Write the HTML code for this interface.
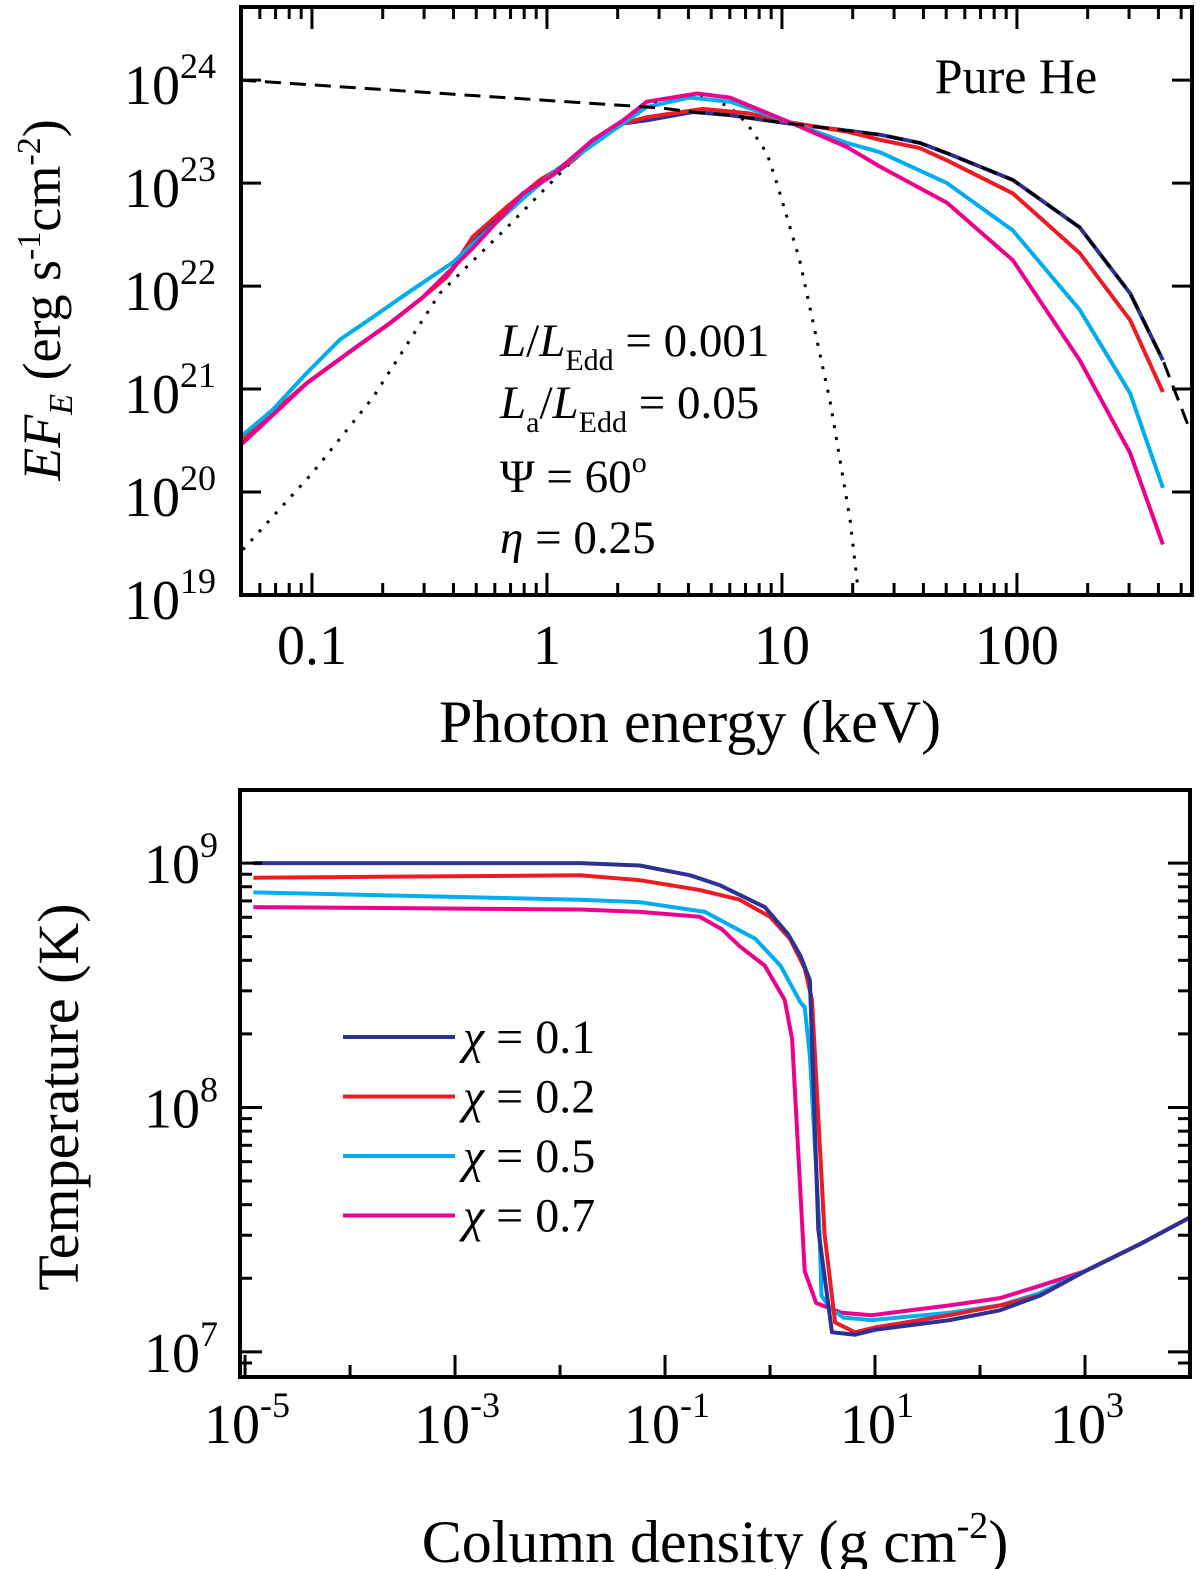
<!DOCTYPE html>
<html><head><meta charset="utf-8"><style>
html,body{margin:0;padding:0;background:#fff}
svg{display:block;font-family:"Liberation Serif",serif}
</style></head><body>
<svg id="fig" width="1200" height="1569" viewBox="0 0 1200 1569" xmlns="http://www.w3.org/2000/svg">
<g id="topPanel"></g>
<g id="botPanel"></g>
<text x="1016" y="93" font-size="50" text-anchor="middle">Pure He</text>
<g font-size="47">
<text x="500" y="356"><tspan font-style="italic">L</tspan>/<tspan font-style="italic">L</tspan><tspan font-size="30" dy="14">Edd</tspan><tspan dy="-14"> = 0.001</tspan></text>
<text x="500" y="418"><tspan font-style="italic">L</tspan><tspan font-size="30" dy="14">a</tspan><tspan dy="-14">/</tspan><tspan font-style="italic">L</tspan><tspan font-size="30" dy="14">Edd</tspan><tspan dy="-14"> = 0.05</tspan></text>
<text x="500" y="492">Ψ = 60<tspan font-size="30" dy="-20">o</tspan></text>
<text x="500" y="553"><tspan font-style="italic">η</tspan> = 0.25</text>
</g>
<text x="690" y="742" font-size="60" text-anchor="middle">Photon energy (keV)</text>
<text transform="translate(60,300) rotate(-90)" font-size="54" text-anchor="middle"><tspan font-style="italic">EF</tspan><tspan font-style="italic" font-size="34" dy="12">E</tspan><tspan dy="-12"> (erg s</tspan><tspan font-size="34" dy="-20">-1</tspan><tspan dy="20">cm</tspan><tspan font-size="34" dy="-20">-2</tspan><tspan dy="20">)</tspan></text>
<text x="715" y="1562" font-size="60" text-anchor="middle">Column density (g cm<tspan font-size="38" dy="-24">-2</tspan><tspan dy="24">)</tspan></text>
<text transform="translate(78,1097) rotate(-90)" font-size="58" text-anchor="middle">Temperature (K)</text>
</svg>
<script>
// ---- Top panel data (energy in keV, log10 EF_E) ----
const blueE=[0.0508,0.0682,0.0953,0.155,0.215,0.296,0.375,0.484,0.612,0.791,1.03,1.29,1.57,2.11,2.66,4.18,6.01,9.80,18.9,26.1,38.6,50.4,96.1,185,303,418];
const blueF=[20.50,20.77,21.06,21.41,21.64,21.89,22.09,22.42,22.67,22.90,23.06,23.22,23.39,23.58,23.61,23.69,23.66,23.59,23.51,23.47,23.39,23.29,23.03,22.57,21.93,21.28];
const redE=[0.0508,0.0682,0.0953,0.155,0.215,0.296,0.375,0.484,0.676,0.933,1.29,1.57,2.11,2.66,4.61,7.10,10.8,18.9,26.1,38.6,50.4,96.1,185,303,418];
const redF=[20.50,20.77,21.06,21.41,21.64,21.89,22.09,22.48,22.77,23.03,23.22,23.39,23.58,23.64,23.72,23.68,23.59,23.50,23.42,23.34,23.22,22.90,22.32,21.67,20.97];
const cyanE=[0.0494,0.0682,0.0953,0.1315,0.182,0.254,0.398,0.572,0.791,1.10,1.52,2.11,2.66,4.06,6.01,10.8,18.9,26.1,50.4,96.1,185,303,418];
const cyanF=[20.53,20.80,21.16,21.48,21.70,21.93,22.23,22.56,22.85,23.13,23.35,23.58,23.74,23.83,23.79,23.59,23.39,23.30,23.00,22.54,21.77,20.96,20.04];
const pinkE=[0.0494,0.0953,0.155,0.215,0.296,0.484,0.791,1.03,1.57,2.11,2.66,4.35,6.01,10.8,18.9,26.1,50.4,96.1,185,303,418];
const pinkF=[20.45,21.06,21.41,21.64,21.89,22.37,22.90,23.06,23.42,23.61,23.79,23.87,23.83,23.59,23.35,23.16,22.81,22.25,21.28,20.38,19.49];
const dashE=[0.0494,3.03,4.18,6.01,9.80,18.9,26.1,38.6,50.4,96.1,185,303,418,545];
const dashF=[24.00,23.73,23.69,23.66,23.59,23.51,23.47,23.39,23.29,23.03,22.57,21.93,21.28,20.60];
const dotE=[0.0508,0.1,0.182,0.350,0.676,1.29,1.80,3.03,4.35,6.01,7.10,8.63,9.52,11.9,16.0,19.5,21.1];
const dotF=[19.44,20.18,20.92,21.93,22.57,23.22,23.51,23.81,23.87,23.74,23.58,23.29,23.00,22.25,20.89,19.73,19.05];
const topXTicks=["0.1","1","10","100"];
const topYTicks=["19","20","21","22","23","24"];
// ---- Bottom panel data (log10 column density, log10 T) ----
const b1N=[-4.92,-1.81,-1.24,-0.76,-0.48,-0.05,0.17,0.29,0.38,0.46,0.59,0.81,1.0,1.71,2.19,2.57,3.0,3.52,4.0];
const b1T=[9.00,9.00,8.99,8.95,8.91,8.82,8.71,8.62,8.52,7.50,7.08,7.07,7.09,7.13,7.17,7.23,7.33,7.44,7.55];
const b2N=[-4.92,-1.81,-1.24,-0.67,-0.29,0.0,0.19,0.33,0.40,0.52,0.62,0.81,1.0,1.71,2.19,2.57,3.0,3.52,4.0];
const b2T=[8.94,8.95,8.93,8.89,8.85,8.78,8.69,8.57,8.44,7.48,7.12,7.08,7.10,7.15,7.19,7.23,7.33,7.44,7.55];
const b5N=[-4.92,-1.81,-1.24,-0.62,-0.14,0.10,0.29,0.33,0.38,0.47,0.49,0.57,0.70,0.97,1.71,2.19,2.57,3.0,3.52,4.0];
const b5T=[8.88,8.85,8.84,8.80,8.69,8.58,8.43,8.41,8.21,7.51,7.23,7.18,7.14,7.13,7.16,7.19,7.24,7.33,7.44,7.55];
const b7N=[-4.92,-1.81,-1.24,-0.67,-0.46,-0.29,-0.05,0.14,0.21,0.33,0.44,0.68,0.97,1.71,2.19,2.57,3.0,3.52,4.0];
const b7T=[8.82,8.81,8.80,8.78,8.73,8.66,8.58,8.44,8.28,7.33,7.20,7.16,7.15,7.19,7.22,7.27,7.33,7.44,7.55];
const chiLabels=["0.1","0.2","0.5","0.7"];
const botXExp=["-5","-3","-1","1","3"];
const botYExp=["7","8","9"];

const NS="http://www.w3.org/2000/svg";
function mk(tag,attrs,parent){const e=document.createElementNS(NS,tag);for(const k in attrs)e.setAttribute(k,attrs[k]);parent.appendChild(e);return e;}
const COL=["#2e3192","#ed1c24","#00aeef","#ec008c"];

// top axes
const T={x0:241,x1:1192,y0:7,y1:595,lx0:-1.302,lx1:2.745,ly0:19,ly1:24.71};
const tx=e=>T.x0+(Math.log10(e)-T.lx0)/(T.lx1-T.lx0)*(T.x1-T.x0);
const ty=f=>T.y1-(f-T.ly0)/(T.ly1-T.ly0)*(T.y1-T.y0);
const gTop=document.getElementById('topPanel');
const cp=mk('clipPath',{id:'ctop'},gTop);mk('rect',{x:T.x0,y:T.y0,width:T.x1-T.x0,height:T.y1-T.y0},cp);
function lineTop(E,F,col,name,dash){
  const d=E.map((e,i)=>(i?'L':'M')+tx(e).toFixed(1)+' '+ty(F[i]).toFixed(1)).join(' ');
  const p=mk('path',{d:d,fill:'none',stroke:col,'stroke-width':dash?3:4,'stroke-linejoin':'round','clip-path':'url(#ctop)'},gTop);
  if(dash)p.setAttribute('stroke-dasharray',dash);
  
  
}
lineTop(dotE,dotF,'#000','blackbody-dotted-line','3 9');
lineTop(blueE,blueF,COL[0],'spectrum-chi-0.1');
lineTop(redE,redF,COL[1],'spectrum-chi-0.2');
lineTop(cyanE,cyanF,COL[2],'spectrum-chi-0.5');
lineTop(pinkE,pinkF,COL[3],'spectrum-chi-0.7');
lineTop(dashE,dashF,'#000','model-dashed-line','16 9');
mk('rect',{x:T.x0,y:T.y0,width:T.x1-T.x0,height:T.y1-T.y0,fill:'none',stroke:'#000','stroke-width':4},gTop);
for(let d=-2;d<=2;d++)for(let m=1;m<=9;m++){
  const v=m*Math.pow(10,d);const x=tx(v);if(x<T.x0+2||x>T.x1-2)continue;
  const L=m===1?22:12;
  mk('line',{x1:x,x2:x,y1:T.y1,y2:T.y1-L,stroke:'#000','stroke-width':3},gTop);
  mk('line',{x1:x,x2:x,y1:T.y0,y2:T.y0+L,stroke:'#000','stroke-width':3},gTop);
}
topXTicks.forEach(s=>{const t=mk('text',{x:tx(parseFloat(s)),y:664,'font-size':56,'text-anchor':'middle'},gTop);t.textContent=s;
  
  });
topYTicks.forEach(s=>{const y=ty(parseFloat(s));
  mk('line',{x1:T.x0,x2:T.x0+20,y1:y,y2:y,stroke:'#000','stroke-width':3},gTop);
  mk('line',{x1:T.x1,x2:T.x1-20,y1:y,y2:y,stroke:'#000','stroke-width':3},gTop);
  const t=mk('text',{x:124,y:y+24,'font-size':56},gTop);t.innerHTML='10<tspan font-size="36" dy="-26">'+s+'</tspan>';
  
  });

// bottom axes
const B={x0:240,x1:1190,y0:790,y1:1377,lx0:-5.048,lx1:4.0,ly0:6.897,ly1:9.299};
const bx=n=>B.x0+(n-B.lx0)/(B.lx1-B.lx0)*(B.x1-B.x0);
const by=t=>B.y1-(t-B.ly0)/(B.ly1-B.ly0)*(B.y1-B.y0);
const gBot=document.getElementById('botPanel');
const cb=mk('clipPath',{id:'cbot'},gBot);mk('rect',{x:B.x0,y:B.y0,width:B.x1-B.x0,height:B.y1-B.y0},cb);
const series=[[b1N,b1T],[b2N,b2T],[b5N,b5T],[b7N,b7T]];
for(let i=3;i>=0;i--){
  const s=series[i];
  const d=s[0].map((n,k)=>(k?'L':'M')+bx(n).toFixed(1)+' '+by(s[1][k]).toFixed(1)).join(' ');
  const p=mk('path',{d:d,fill:'none',stroke:COL[i],'stroke-width':4,'stroke-linejoin':'round','clip-path':'url(#cbot)'},gBot);
  
  
}
mk('rect',{x:B.x0,y:B.y0,width:B.x1-B.x0,height:B.y1-B.y0,fill:'none',stroke:'#000','stroke-width':4},gBot);
for(let e=-5;e<=4;e++){const x=bx(e);if(x<B.x0+2||x>B.x1-2)continue;const L=(e%2!==0)?22:12;
  mk('line',{x1:x,x2:x,y1:B.y1,y2:B.y1-L,stroke:'#000','stroke-width':3},gBot);}
for(let e=6;e<=9;e++)for(let m=1;m<=9;m++){const y=by(e+Math.log10(m));if(y<B.y0+2||y>B.y1-2)continue;const L=m===1?22:12;
  mk('line',{x1:B.x0,x2:B.x0+L,y1:y,y2:y,stroke:'#000','stroke-width':3},gBot);
  mk('line',{x1:B.x1,x2:B.x1-L,y1:y,y2:y,stroke:'#000','stroke-width':3},gBot);}
botXExp.forEach(s=>{const t=mk('text',{x:bx(parseFloat(s))+2,y:1443,'font-size':56,'text-anchor':'middle'},gBot);
  t.innerHTML='10<tspan font-size="36" dy="-26">'+s+'</tspan>';
  
  });
botYExp.forEach(s=>{const t=mk('text',{x:144,y:by(parseFloat(s))+20,'font-size':56},gBot);
  t.innerHTML='10<tspan font-size="36" dy="-26">'+s+'</tspan>';
  
  });
chiLabels.forEach((s,i)=>{const y=1037+i*59.5;
  const g=mk('g',{},gBot);
  
  
  mk('line',{x1:343,x2:455,y1:y,y2:y,stroke:COL[i],'stroke-width':4},g);
  const t=mk('text',{x:463,y:y+16,'font-size':48},g);
  t.innerHTML='<tspan font-style="italic">χ</tspan> = '+s;});
</script>
</body></html>
